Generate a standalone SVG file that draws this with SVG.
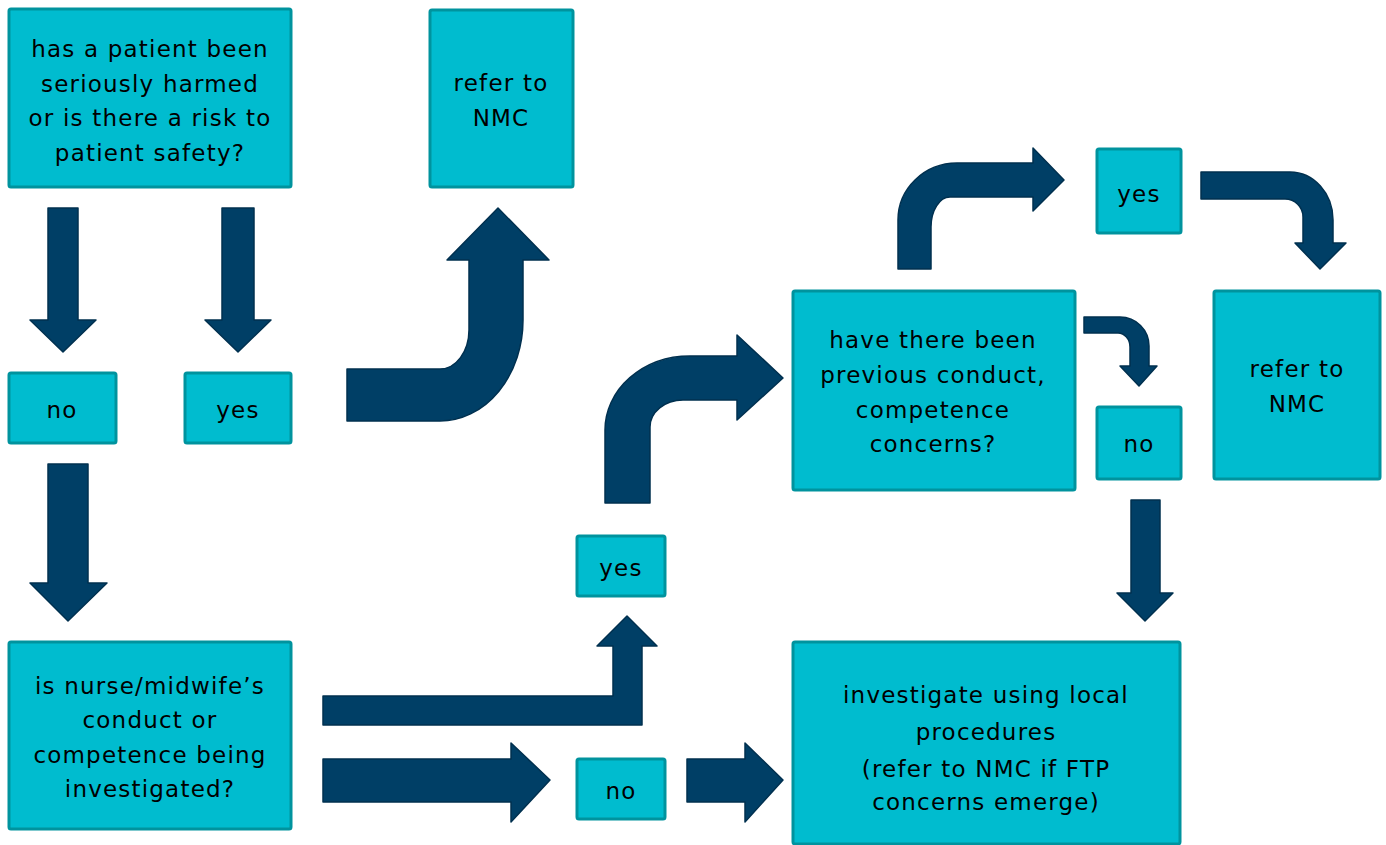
<svg xmlns="http://www.w3.org/2000/svg" width="1386" height="845" viewBox="0 0 1386 845">
<style>
.box{fill:#00BCCF;stroke:#00939E;stroke-width:3}
.arr{fill:#003F66;stroke:#00304F;stroke-width:1.5;stroke-linejoin:round}
text{font-family:"DejaVu Sans","Liberation Sans",sans-serif;font-size:23px;letter-spacing:1.2px;fill:#000;text-anchor:middle}
</style>
<rect width="1386" height="845" fill="#fff"/>
<g id="connectors">
<path class="arr" d="M48,208 H78 V320 H96 L63,352 L30,320 H48 Z"/>
<path class="arr" d="M222,208 H254 V320 H271 L238,352 L205,320 H222 Z"/>
<path class="arr" d="M48,464 H88 V583 H107 L68,621 L30,583 H48 Z"/>
<path class="arr" d="M1131,500 H1160 V593 H1173 L1145,621 L1117,593 H1131 Z"/>
<path class="arr" d="M347,369 H440 A29,39 0 0 0 469,330 V260 H447 L498,208 L549,260 H523 V320 A83,101 0 0 1 440,421 H347 Z"/>
<path class="arr" d="M323,696 H613 V646 H597 L627,616 L657,646 H642 V725 H323 Z"/>
<path class="arr" d="M323,759 H511 V743 L550,780 L511,822 V802 H323 Z"/>
<path class="arr" d="M687,759 H745 V743 L783,780 L745,822 V802 H687 Z"/>
<path class="arr" d="M605,503 V430 A85,74 0 0 1 690,356 H737 V335 L783,378 L737,420 V400 H683 A33,27 0 0 0 650,427 V503 Z"/>
<path class="arr" d="M898,269 V220 A59,57 0 0 1 957,163 H1033 V148 L1064,180 L1033,211 V197 H950 A19,30 0 0 0 931,227 V269 Z"/>
<path class="arr" d="M1201,172 H1290 A43,48 0 0 1 1333,220 V243 H1346 L1320,269 L1295,243 H1303 V217 A18,18 0 0 0 1285,199 H1201 Z"/>
<path class="arr" d="M1084,317 H1120 A29,29 0 0 1 1149,346 V366 H1157 L1139,386 L1120,366 H1130 V347 A12,14 0 0 0 1118,333 H1084 Z"/>
</g>
<g id="q1">
<rect class="box" x="9" y="9" width="282" height="178" rx="2"/>
<text x="150" y="57">has a patient been</text>
<text x="150" y="92">seriously harmed</text>
<text x="150" y="126">or is there a risk to</text>
<text x="150" y="161">patient safety?</text>
</g>
<g id="refer1">
<rect class="box" x="430" y="10" width="143" height="177" rx="2"/>
<text x="501" y="91">refer to</text>
<text x="501" y="126">NMC</text>
</g>
<g id="no1">
<rect class="box" x="9" y="373" width="107" height="70" rx="2"/>
<text x="62" y="418">no</text>
</g>
<g id="yes1">
<rect class="box" x="185" y="373" width="106" height="70" rx="2"/>
<text x="238" y="418">yes</text>
</g>
<g id="q2">
<rect class="box" x="9" y="642" width="282" height="187" rx="2"/>
<text x="150" y="694">is nurse/midwife’s</text>
<text x="150" y="728">conduct or</text>
<text x="150" y="763">competence being</text>
<text x="150" y="797">investigated?</text>
</g>
<g id="yes2">
<rect class="box" x="577" y="536" width="88" height="60" rx="2"/>
<text x="621" y="576">yes</text>
</g>
<g id="no2">
<rect class="box" x="577" y="759" width="88" height="60" rx="2"/>
<text x="621" y="799">no</text>
</g>
<g id="q3">
<rect class="box" x="793" y="291" width="282" height="199" rx="2"/>
<text x="933" y="348">have there been</text>
<text x="933" y="383">previous conduct,</text>
<text x="933" y="418">competence</text>
<text x="933" y="452">concerns?</text>
</g>
<g id="yes3">
<rect class="box" x="1097" y="149" width="84" height="84" rx="2"/>
<text x="1139" y="202">yes</text>
</g>
<g id="no3">
<rect class="box" x="1097" y="407" width="84" height="72" rx="2"/>
<text x="1139" y="452">no</text>
</g>
<g id="refer2">
<rect class="box" x="1214" y="291" width="166" height="188" rx="2"/>
<text x="1297" y="377">refer to</text>
<text x="1297" y="412">NMC</text>
</g>
<g id="investigate">
<rect class="box" x="793" y="642" width="387" height="202" rx="2"/>
<text x="986" y="703">investigate using local</text>
<text x="986" y="740">procedures</text>
<text x="986" y="777">(refer to NMC if FTP</text>
<text x="986" y="810">concerns emerge)</text>
</g>
</svg>
